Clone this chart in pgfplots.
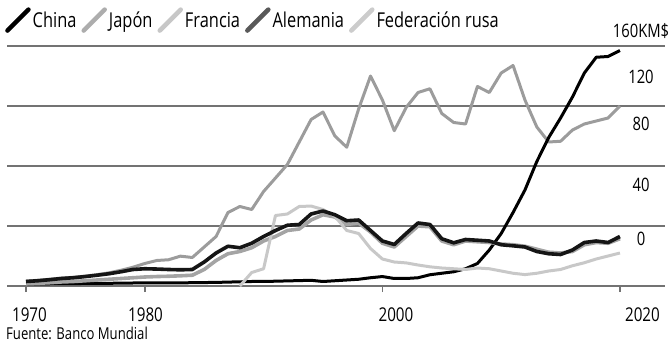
\documentclass[border=0pt]{standalone}
\usepackage{pgfplots}
\usepackage{pgfplotstable}
\pgfplotsset{compat=1.18}
\usepackage{fontspec}
\setmainfont{Open Sans}[FakeStretch=0.8]
\definecolor{gridc}{HTML}{737373}
\definecolor{japc}{HTML}{9C9C9C}
\definecolor{frac}{HTML}{A4A4A4}
\definecolor{rusc}{HTML}{C8C8C8}
\definecolor{alec}{HTML}{151515}

\pgfplotstableread{
year val
1970 1.5
1971 1.5
1972 1.5
1973 1.6
1974 1.6
1975 1.7
1976 1.7
1977 1.8
1978 1.9
1979 2.0
1980 2.0
1981 2.0
1982 2.0
1983 2.1
1984 2.2
1985 2.3
1986 2.4
1987 2.6
1988 2.8
1989 3.0
1990 3.0
1991 3.2
1992 3.4
1993 3.6
1994 3.8
1995 3.0
1996 3.5
1997 4.0
1998 4.5
1999 5.5
2000 6.3
2001 5.0
2002 5.0
2003 5.5
2004 7.5
2005 8.5
2006 9.5
2007 11.5
2008 15
2009 24
2010 35
2011 49
2012 64
2013 83
2014 99
2015 112
2016 126
2017 142
2018 152.5
2019 153
2020 157
}\china

\pgfplotstableread{
year val
1970 3.3
1971 3.8
1972 4.5
1973 5.3
1974 5.8
1975 6.6
1976 7.6
1977 8.8
1978 10.5
1979 12.5
1980 15
1981 17
1982 17.5
1983 19.9
1984 19
1985 26
1986 33
1987 49
1988 53
1989 51
1990 63
1991 72
1992 81
1993 96
1994 111
1995 116
1996 100
1997 92.5
1998 118
1999 140
2000 124
2001 103.5
2002 119
2003 129
2004 131.5
2005 115
2006 109
2007 108
2008 133
2009 129
2010 142
2011 147
2012 124
2013 106
2014 96
2015 96.5
2016 104
2017 108
2018 110
2019 112
2020 120
}\japon

\pgfplotstableread{
year val
1970 1.5
1971 1.8
1972 2.2
1973 2.7
1974 3
1975 3.5
1976 4
1977 4.5
1978 5
1979 5.5
1980 6
1981 6.3
1982 6.5
1983 6.8
1984 7.2
1985 11
1986 17
1987 21.5
1988 23
1989 25.5
1990 30
1991 33
1992 37
1993 38
1994 44
1995 47.5
1996 46
1997 41
1998 42
1999 36
2000 28.5
2001 26
2002 33
2003 40
2004 39.5
2005 30
2006 27.5
2007 30
2008 29.5
2009 29
2010 28
2011 27.5
2012 26.5
2013 24.5
2014 22.5
2015 22
2016 23
2017 27.5
2018 29
2019 28.5
2020 31.5
}\francia

\pgfplotstableread{
year val
1970 3
1971 3.5
1972 4.2
1973 5
1974 5.5
1975 6.3
1976 7.2
1977 8.2
1978 9.5
1979 11
1980 11.5
1981 11.3
1982 11
1983 10.8
1984 11
1985 16
1986 22
1987 26.5
1988 25.5
1989 28.5
1990 33
1991 37
1992 40.5
1993 41
1994 48
1995 50
1996 47.5
1997 43.5
1998 44
1999 37
2000 30
2001 27.7
2002 35
2003 42
2004 41
2005 31.5
2006 28.8
2007 31
2008 30.5
2009 30
2010 27.5
2011 26.8
2012 26
2013 23
2014 21.5
2015 21
2016 24
2017 29
2018 30
2019 29
2020 33
}\alemania

\pgfplotstableread{
year val
1988 0
1989 9
1990 11.5
1991 47
1992 48
1993 53
1994 53.3
1995 51
1996 46.5
1997 37
1998 35
1999 25
2000 18
2001 16
2002 15.4
2003 14
2004 12.8
2005 12
2006 11.5
2007 11
2008 12
2009 11.5
2010 10
2011 8.5
2012 7.6
2013 8.5
2014 10
2015 11
2016 13.5
2017 15.5
2018 18
2019 20
2020 22
}\rusia

\begin{document}
\begin{tikzpicture}
\path[use as bounding box] (0,0) rectangle (672bp,342bp);
\begin{axis}[
  at={(7bp,56bp)}, anchor=south west,
  scale only axis, width=658bp, height=262.5bp,
  xmin=1968.4, xmax=2023.79, ymin=0, ymax=175,
  clip=false,
  axis line style={draw=none},
  xtick pos=left, xticklabel pos=left,
  ytick pos=right, yticklabel pos=right,
  xtick={1970,1980,2000,2020},
  xticklabels={},
  xtick align=outside,
  major tick length=6bp,
  xtick style={draw=gridc, line width=1.5bp},
  extra x ticks={1970.29,1980.06,2001.14,2021.89},
  extra x tick labels={1970,1980,2000,2020},
  extra x tick style={xtick style={draw=none}, xticklabel style={anchor=base, yshift=-29bp, font=\fontsize{19bp}{21bp}\selectfont}},
  ytick={31.3,67.3,108.3,139.5,169.7},
  yticklabels={0,40,80,120,160KM\$},
  ytick style={draw=none},
  yticklabel style={anchor=center, xshift=-24bp, font=\fontsize{18.5bp}{20bp}\selectfont},
  legend columns=5,
  legend cell align=left,
  legend style={at={(-0.003,1.013)}, anchor=west, draw=none, fill=none, inner sep=0pt,
    font=\fontsize{20.5bp}{22bp}\selectfont,
    nodes={inner sep=2bp},
    /tikz/every even column/.append style={column sep=3bp}},
  legend image code/.code={\draw[#1, line width=4.5bp, line cap=round] (0bp,-10bp) -- (21bp,11bp);},
]
% horizontal reference lines at 0, 40, 80, 120, 160
\addplot[gridc, line width=1.9bp, forget plot] coordinates {(1968.4,0) (2023.79,0)};
\addplot[gridc, line width=1.9bp, forget plot] coordinates {(1968.4,40) (2023.79,40)};
\addplot[gridc, line width=1.9bp, forget plot] coordinates {(1968.4,80) (2023.79,80)};
\addplot[gridc, line width=1.9bp, forget plot] coordinates {(1968.4,120) (2023.79,120)};
\addplot[gridc, line width=1.9bp, forget plot] coordinates {(1968.4,160) (2023.79,160)};
\addplot[japc, line width=3bp, line join=round, forget plot] table[x=year,y=val] {\japon};
\addplot[black, line width=3bp, line join=round, forget plot] table[x=year,y=val] {\china};
\addplot[frac, line width=3.6bp, line join=round, forget plot] table[x=year,y=val] {\francia};
\addplot[rusc, line width=3bp, line join=round, forget plot] table[x=year,y=val] {\rusia};
\addplot[alec, line width=3.6bp, line join=round, forget plot] table[x=year,y=val] {\alemania};
\addlegendimage{black}
\addlegendentry{China}
\addlegendimage{color=black!32}
\addlegendentry{Japón}
\addlegendimage{color=black!22}
\addlegendentry{Francia}
\addlegendimage{color=black!65}
\addlegendentry{Alemania}
\addlegendimage{color=black!20}
\addlegendentry{Federación rusa}
\end{axis}
\node[anchor=base west, inner sep=0pt, font=\fontsize{16.4bp}{18bp}\selectfont] at (6bp,2.5bp) {Fuente: Banco Mundial};
\end{tikzpicture}
\end{document}
